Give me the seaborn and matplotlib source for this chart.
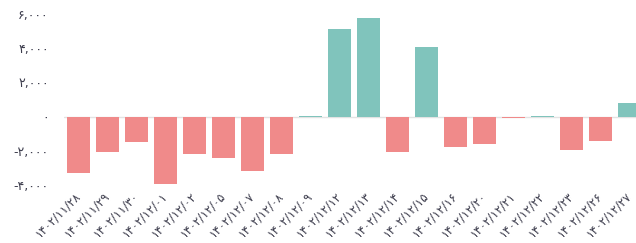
import pandas as pd
import matplotlib.pyplot as plt
import seaborn as sns

# Persian (Jalali) dates shown on the x axis
dates = [
    "۱۴۰۲/۱۱/۲۸", "۱۴۰۲/۱۱/۲۹", "۱۴۰۲/۱۱/۳۰", "۱۴۰۲/۱۲/۰۱", "۱۴۰۲/۱۲/۰۲",
    "۱۴۰۲/۱۲/۰۵", "۱۴۰۲/۱۲/۰۷", "۱۴۰۲/۱۲/۰۸", "۱۴۰۲/۱۲/۰۹", "۱۴۰۲/۱۲/۱۲",
    "۱۴۰۲/۱۲/۱۳", "۱۴۰۲/۱۲/۱۴", "۱۴۰۲/۱۲/۱۵", "۱۴۰۲/۱۲/۱۶", "۱۴۰۲/۱۲/۲۰",
    "۱۴۰۲/۱۲/۲۱", "۱۴۰۲/۱۲/۲۲", "۱۴۰۲/۱۲/۲۳", "۱۴۰۲/۱۲/۲۶", "۱۴۰۲/۱۲/۲۷",
]
values = [
    -3300, -2040, -1460, -3940, -2190,
    -2390, -3150, -2190, 60, 5100,
    5740, -2040, 4080, -1750, -1590,
    -60, 60, -1925, -1440, 820,
]
yticks = [-4000, -2000, 0, 2000, 4000, 6000]
ytick_labels = ["-۴,۰۰۰", "-۲,۰۰۰", "۰", "۲,۰۰۰", "۴,۰۰۰", "۶,۰۰۰"]

df = pd.DataFrame({"date": dates, "value": values})
df["sign"] = ["up" if v >= 0 else "down" for v in values]
palette = {"up": "#80c4bc", "down": "#f08a8a"}

sns.set_style("white")
plt.rcParams["font.family"] = ["DejaVu Sans"]

W, H = 636, 243
fig = plt.figure(figsize=(W / 100, H / 100), dpi=100)
# plot area in pixels: left edge 64, 29px per category, bottom at y=190
left_px, step_px, bottom_px = 64, 29, 190
ax = fig.add_axes([left_px / W, (H - bottom_px) / H, 20 * step_px / W, bottom_px / H])

ax.axhline(0, color="#e3e3e3", lw=1, zorder=0)
sns.barplot(data=df, x="date", y="value", hue="sign", order=dates,
            palette=palette, dodge=False, saturation=1, width=0.8,
            linewidth=0, legend=False, ax=ax)

zero_px, px_per_k = 116.7, 17.15
ax.set_ylim(-(bottom_px - zero_px) / px_per_k * 1000, zero_px / px_per_k * 1000)
ax.set_xlim(-0.5, 19.5)
ax.set_yticks(yticks)
ax.set_yticklabels(ytick_labels, fontsize=9, color="#3c3c4c")
ax.set_xticks(range(len(dates)))
ax.set_xticklabels(dates, rotation=45, ha="right", va="center",
                   rotation_mode="anchor", fontsize=8.5, color="#3c3c4c")
ax.tick_params(axis="y", length=0, pad=11)
ax.tick_params(axis="x", length=0, pad=3)
ax.set_xlabel("")
ax.set_ylabel("")
sns.despine(ax=ax, left=True, bottom=True)

fig.savefig("out.png", dpi=100)
